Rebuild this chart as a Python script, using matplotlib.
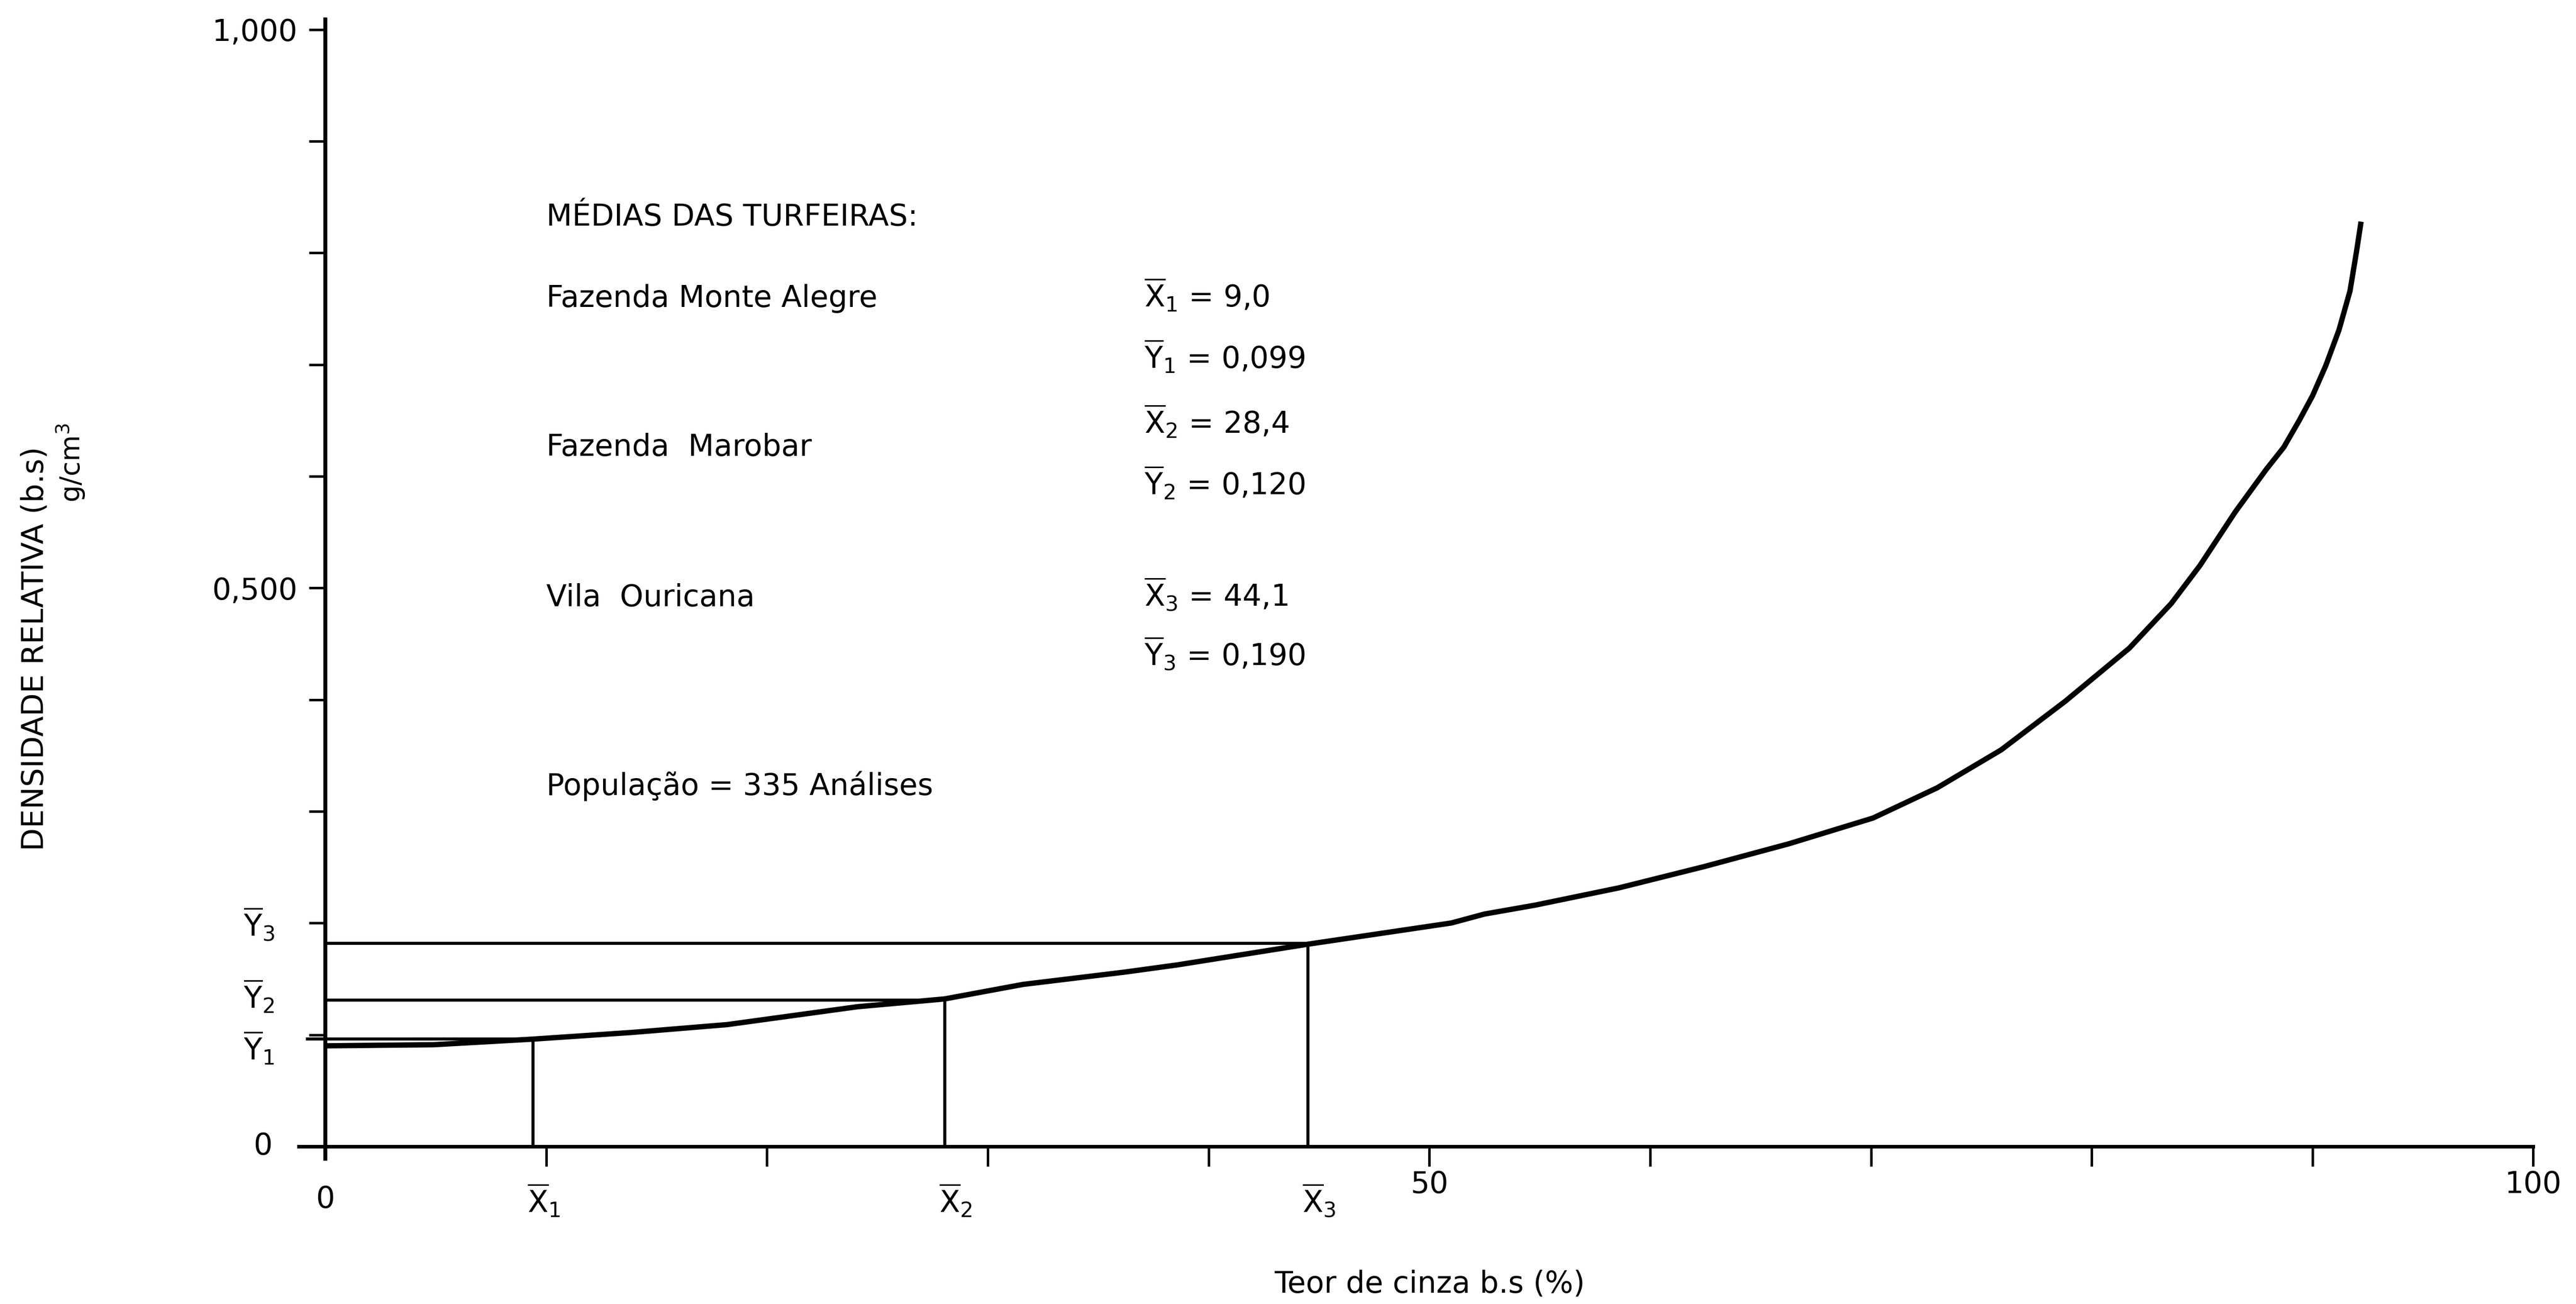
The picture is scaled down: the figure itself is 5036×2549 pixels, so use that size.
import matplotlib
matplotlib.use('Agg')
import matplotlib.pyplot as plt

plt.rcParams['font.family'] = ['DejaVu Sans']
plt.rcParams['mathtext.fontset'] = 'dejavusans'

# ---- data ----
teor_cinza = [0.0, 4.9, 9.4, 13.9, 18.2, 24.1, 28.05, 31.6, 36.2, 38.6, 44.5, 51.0,
              52.5, 54.8, 58.6, 62.45, 66.3, 70.1, 73.0, 75.9, 78.8, 81.7, 83.6,
              84.9, 86.5, 87.9, 88.7, 89.4, 90.0, 90.6, 91.2, 91.7, 92.0, 92.2]
densidade = [0.090, 0.091, 0.096, 0.102, 0.109, 0.125, 0.132, 0.145, 0.156, 0.1625,
             0.181, 0.200, 0.208, 0.216, 0.2315, 0.2505, 0.271, 0.294, 0.321, 0.355,
             0.3985, 0.446, 0.486, 0.520, 0.568, 0.606, 0.626, 0.650, 0.672, 0.699,
             0.731, 0.766, 0.802, 0.828]

# drawn positions of the mean lines
media_x = [9.4, 28.05, 44.5]
media_y = [0.096, 0.131, 0.182]
media_x_labels = [r'$\overline{\mathrm{X}}_{1}$', r'$\overline{\mathrm{X}}_{2}$', r'$\overline{\mathrm{X}}_{3}$']
media_y_labels = [r'$\overline{\mathrm{Y}}_{1}$', r'$\overline{\mathrm{Y}}_{2}$', r'$\overline{\mathrm{Y}}_{3}$']
media_y_label_pos = [0.088, 0.134, 0.199]

x_ticks = [10, 20, 30, 40, 50, 60, 70, 80, 90, 100]
x_tick_labels = ['', '', '', '', '50', '', '', '', '', '100']
y_ticks = [0.1, 0.2, 0.3, 0.4, 0.5, 0.6, 0.7, 0.8, 0.9, 1.0]
y_tick_labels = ['', '', '', '', '0,500', '', '', '', '', '1,000']

titulo = 'MÉDIAS DAS TURFEIRAS:'
turfeiras = ['Fazenda Monte Alegre', 'Fazenda  Marobar', 'Vila  Ouricana']
turfeiras_y = [0.762, 0.629, 0.494]
medias_texto = [r'$\overline{\mathrm{X}}_{1}$ = 9,0', r'$\overline{\mathrm{Y}}_{1}$ = 0,099',
                r'$\overline{\mathrm{X}}_{2}$ = 28,4', r'$\overline{\mathrm{Y}}_{2}$ = 0,120',
                r'$\overline{\mathrm{X}}_{3}$ = 44,1', r'$\overline{\mathrm{Y}}_{3}$ = 0,190']
medias_texto_y = [0.762, 0.707, 0.649, 0.594, 0.494, 0.441]
populacao = 'População = 335 Análises'

FS = 42
BL = 0.0105  # centre -> baseline offset (data units)

fig = plt.figure(figsize=(50.36, 25.49), dpi=100)
fig.patch.set_facecolor('white')
ax = fig.add_axes([0.11342, 0.10806, 0.99199 - 0.11342, 0.98589 - 0.10806])
ax.set_xlim(-1.5, 101)
ax.set_ylim(-0.015, 1.01)

for s in ['top', 'right']:
    ax.spines[s].set_visible(False)
ax.spines['left'].set_position(('data', 0))
ax.spines['bottom'].set_position(('data', 0))
ax.spines['left'].set_bounds(-0.011, 1.009)
ax.spines['bottom'].set_bounds(-1.2, 100)
ax.spines['left'].set_linewidth(5.5)
ax.spines['bottom'].set_linewidth(5)

ax.set_xticks(x_ticks)
ax.set_xticklabels(x_tick_labels, fontsize=FS)
ax.set_yticks(y_ticks)
ax.set_yticklabels(y_tick_labels, fontsize=FS)
ax.tick_params(axis='x', direction='out', length=28, width=3.5, pad=5)
ax.tick_params(axis='y', direction='out', length=23, width=3.5, pad=16)

# curve
ax.plot(teor_cinza, densidade, color='black', lw=7.5, solid_capstyle='butt',
        solid_joinstyle='round', zorder=3)

# mean guide lines
for i in range(3):
    x0 = -0.8 if i == 0 else 0
    ax.plot([x0, media_x[i]], [media_y[i], media_y[i]], color='black', lw=4.3, zorder=2)
    ax.plot([media_x[i], media_x[i]], [0, media_y[i]], color='black', lw=4.3, zorder=2)
    ax.text(media_x[i] + 0.5, -0.0485, media_x_labels[i], fontsize=FS,
            ha='center', va='center')
    ax.text(-3.0, media_y_label_pos[i], media_y_labels[i], fontsize=FS,
            ha='center', va='center')

# zero labels
ax.text(0, -0.0475, '0', fontsize=FS, ha='center', va='center')
ax.text(-2.83, 0.0, '0', fontsize=FS, ha='center', va='center')

# annotation block
ax.text(10.0, 0.835 - BL, titulo, fontsize=FS, ha='left', va='baseline')
for name, yy in zip(turfeiras, turfeiras_y):
    ax.text(10.0, yy - BL, name, fontsize=FS, ha='left', va='baseline')
for t, yy in zip(medias_texto, medias_texto_y):
    ax.text(37.1, yy - BL, t, fontsize=FS, ha='left', va='baseline')
ax.text(10.0, 0.325 - BL, populacao, fontsize=FS, ha='left', va='baseline')

# axis titles
fig.text(0.0135, 0.5025, 'DENSIDADE RELATIVA (b.s)', rotation=90, fontsize=FS,
         ha='center', va='center')
fig.text(0.0275, 0.645, 'g/cm$^{3}$', rotation=90, fontsize=FS - 4,
         ha='center', va='center')
fig.text(0.555, 0.004, 'Teor de cinza b.s (%)', fontsize=FS, ha='center', va='bottom')

fig.savefig('out.png', dpi=100, facecolor='white')
